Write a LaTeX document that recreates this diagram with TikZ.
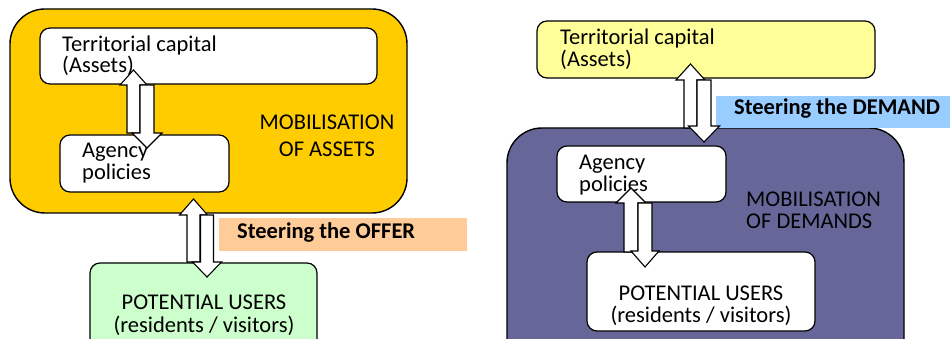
\documentclass[tikz,border=0pt]{standalone}
\usepackage{fontspec}
\setmainfont{Carlito}
\definecolor{gold}{HTML}{FFCC00}
\definecolor{paleyellow}{HTML}{FFFF99}
\definecolor{palegreen}{HTML}{CCFFCC}
\definecolor{purplebox}{HTML}{666699}
\definecolor{orangelabel}{HTML}{FFCC99}
\definecolor{bluelabel}{HTML}{99CCFF}
\newcommand\blockarr[6]{%
  \draw[barrow] ({#1-#5},#2) -- ({#1-#5},#3) -- ({#1-#6},#3) -- (#1,#4) -- ({#1+#6},#3) -- ({#1+#5},#3) -- ({#1+#5},#2) -- cycle;}
\begin{document}
\begin{tikzpicture}[x=1pt,y=-1pt,
  bigbox/.style={draw, line width=1.4pt, rounded corners=35pt},
  inbox/.style={draw, line width=1.2pt, rounded corners=10pt, fill=white},
  barrow/.style={draw, line width=1.1pt, fill=white, line join=miter},
  txt/.style={font=\fontsize{22.5}{26}\selectfont, inner sep=0pt, anchor=base west},
  btxt/.style={font=\fontsize{22.5}{26}\selectfont\bfseries, inner sep=0pt, anchor=base west}]
\useasboundingbox (0,0) rectangle (950,339);
\clip (0,0) rectangle (950,339);
% ---------- left panel ----------
\draw[bigbox, fill=gold] (10,9) rectangle (407,213);
\draw[inbox] (40,28) rectangle (377,84);
\node[txt] (tcA) at (62,52) {Territorial capital};
\node[txt] (asA) at (62,73) {(Assets)};
\draw[inbox] (60,135) rectangle (229,192);
\node[txt] (agA) at (82,158) {Agency};
\node[txt] (poA) at (82,180) {policies};
\node[txt, anchor=base] (m1A) at (327,130) {MOBILISATION};
\node[txt, anchor=base] (m2A) at (327,157) {OF ASSETS};
\draw[inbox, fill=palegreen] (90,263) rectangle (317,360);
\node[txt, anchor=base] (puA) at (204,309) {POTENTIAL USERS};
\node[txt, anchor=base] (rvA) at (204,332) {(residents / visitors)};
\fill[orangelabel] (219,218) rectangle (467,251);
\node[btxt] (soA) at (237,238) {Steering the OFFER};
\blockarr{133.5}{133}{85}{70}{6.5}{13.5}
\blockarr{147}{85}{133}{148}{7}{15}
\blockarr{193.5}{262}{215}{199}{6.5}{14}
\blockarr{207}{215}{262}{277}{6.5}{14.5}
% ---------- right panel ----------
\draw[inbox, fill=paleyellow] (537,21) rectangle (875,78);
\node[txt] (tcB) at (560,45) {Territorial capital};
\node[txt] (asB) at (560,67) {(Assets)};
\draw[bigbox, fill=purplebox] (507,128) rectangle (904,380);
\draw[inbox] (557,146) rectangle (726,202);
\node[txt] (agB) at (579,170) {Agency};
\node[txt] (poB) at (579,192) {policies};
\node[txt] (m1B) at (746,207) {MOBILISATION};
\node[txt] (m2B) at (746,228) {OF DEMANDS};
\draw[inbox] (587,252) rectangle (815,331);
\node[txt, anchor=base] (puB) at (701,300) {POTENTIAL USERS};
\node[txt, anchor=base] (rvB) at (701,322) {(residents / visitors)};
\fill[bluelabel] (716,96) rectangle (950,128);
\node[btxt] (sdB) at (734,115) {Steering the DEMAND};
\blockarr{690.5}{128}{80}{64}{6.5}{14.5}
\blockarr{704}{80}{126}{142}{7}{15.5}
\blockarr{631}{252}{203}{188}{7}{15}
\blockarr{645}{203}{251}{267}{7}{14}
\end{tikzpicture}
\end{document}
